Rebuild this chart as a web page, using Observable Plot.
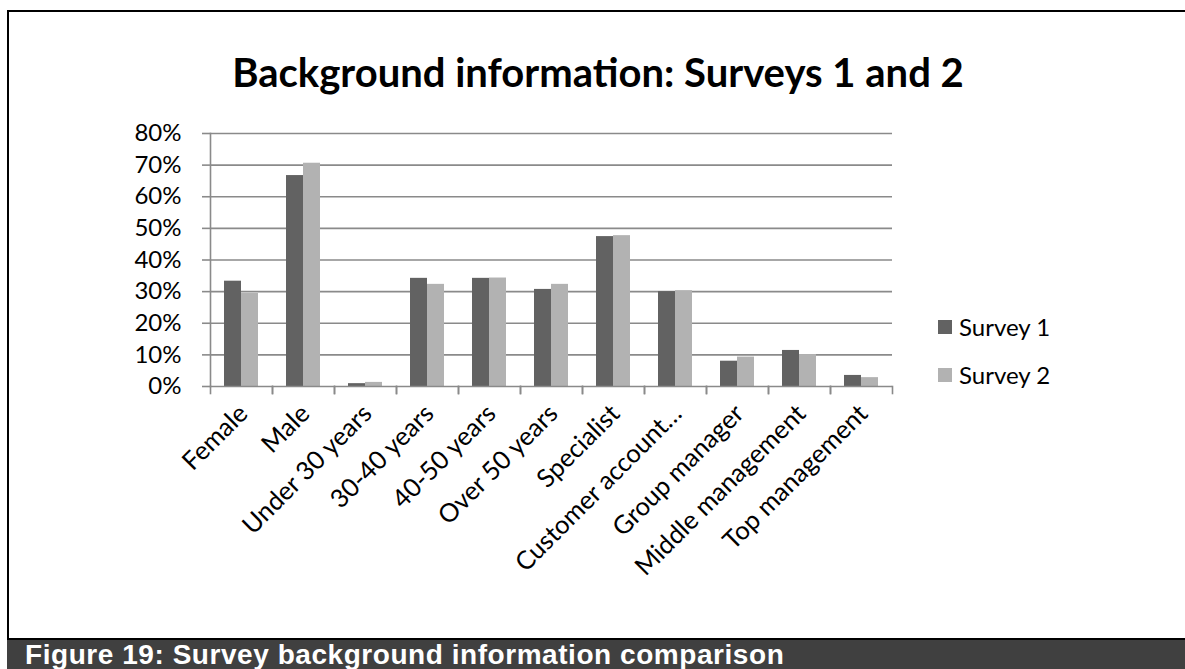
<!DOCTYPE html>
<html>
<head>
<meta charset="utf-8">
<script src="https://cdn.jsdelivr.net/npm/d3@7"></script>
<script src="https://cdn.jsdelivr.net/npm/@observablehq/plot@0.6"></script>
<style>
  body { margin: 0; background: #fff; }
  #wrap { position: relative; width: 1185px; height: 669px; overflow: hidden; font-family: Lato, "Open Sans", sans-serif; }
  #border { position: absolute; left: 7px; top: 10px; width: 1300px; height: 630px; border: 2px solid #000; box-sizing: border-box; }
  #chart { position: absolute; left: 0; top: 0; }
  #title { position: absolute; left: 598px; top: 51.5px; transform: translateX(-50%); white-space: nowrap;
           font: bold 40px/40px Lato, sans-serif; color: #000; }
  #legend { position: absolute; left: 938px; top: 315px; }
  .item { display: flex; align-items: center; height: 24px; margin-bottom: 24px; font: 24px/24px Lato, sans-serif; color: #000; }
  .swatch { width: 14px; height: 14px; margin-right: 7px; }
  #caption { position: absolute; left: 7px; top: 640px; width: 1178px; height: 29px; background: #404040; }
  #caption span { position: absolute; left: 18px; top: 1px; white-space: nowrap; color: #fff;
                  font: bold 28px/28px "Liberation Sans", Arial, sans-serif; letter-spacing: 0.55px; }
</style>
</head>
<body>
<div id="wrap">
  <div id="border"></div>
  <div id="chart"></div>
  <div id="title"></div>
  <div id="legend"></div>
  <div id="caption"><span></span></div>
</div>
<script>
// Respondent profile categories, in axis order
const categories = [
  "Female", "Male", "Under 30 years", "30-40 years", "40-50 years", "Over 50 years",
  "Specialist", "Customer account…", "Group manager", "Middle management", "Top management"
];
const series = ["Survey 1", "Survey 2"];
// Share of respondents per category
const survey1 = [0.333, 0.667, 0.009, 0.342, 0.342, 0.307, 0.474, 0.300, 0.080, 0.114, 0.035];
const survey2 = [0.294, 0.706, 0.013, 0.323, 0.343, 0.323, 0.477, 0.303, 0.093, 0.101, 0.028];
const yTicks = [0, 0.1, 0.2, 0.3, 0.4, 0.5, 0.6, 0.7, 0.8];
const colors = ["#626262", "#b2b2b2"];
const titleText = "Background information: Surveys 1 and 2";
const captionText = "Figure 19: Survey background information comparison";

const rows = [];
categories.forEach((c, i) => {
  rows.push({category: c, series: series[0], value: survey1[i]});
  rows.push({category: c, series: series[1], value: survey2[i]});
});

const W = 1185, H = 630;
const mTop = 133, mBottom = H - 386, mLeft = 206, mRight = W - 895;
const plotH = H - mTop - mBottom;
const gray = "#8a8a8a";

const chart = Plot.plot({
  width: W,
  height: H,
  marginTop: mTop,
  marginBottom: mBottom,
  marginLeft: mLeft,
  marginRight: mRight,
  style: {fontFamily: "Lato, sans-serif", fontSize: "24px", color: "#000", background: "transparent", overflow: "visible"},
  fx: {domain: categories, paddingInner: 0, paddingOuter: 0, label: null},
  x: {domain: series, paddingInner: 0, paddingOuter: 0.74, axis: null},
  y: {domain: [0, 0.8], label: null},
  color: {domain: series, range: colors},
  marks: [
    Plot.ruleY(yTicks.slice(1), {stroke: gray, strokeWidth: 1.6}),
    Plot.barY(rows, {fx: "category", x: "series", y: "value", fill: "series"}),
    Plot.ruleY([0], {stroke: gray, strokeWidth: 1.6}),
    // vertical value axis line
    Plot.frame({anchor: "left", facetAnchor: "left", stroke: gray, strokeWidth: 1.6}),
    // category boundary ticks below the baseline
    Plot.frame({anchor: "left", insetTop: plotH, insetBottom: -7, stroke: gray, strokeWidth: 1.6}),
    Plot.frame({anchor: "right", insetTop: plotH, insetBottom: -7, stroke: gray, strokeWidth: 1.6}),
    Plot.axisY({ticks: yTicks, tickFormat: d3.format(".0%"), tickSize: 8, tickPadding: 21,
                stroke: gray, strokeWidth: 1.6, label: null, fontSize: 24}),
    Plot.axisFx({anchor: "bottom", tickRotate: -45, tickSize: 0, tickPadding: 23, dx: 2, label: null, fontSize: 25.5})
  ]
});
document.getElementById("chart").appendChild(chart);

document.getElementById("title").textContent = titleText;
document.querySelector("#caption span").textContent = captionText;
const legend = document.getElementById("legend");
series.forEach((s, i) => {
  const item = document.createElement("div");
  item.className = "item";
  const sw = document.createElement("div");
  sw.className = "swatch";
  sw.style.background = colors[i];
  const label = document.createElement("span");
  label.textContent = s;
  item.append(sw, label);
  legend.appendChild(item);
});
</script>
</body>
</html>
